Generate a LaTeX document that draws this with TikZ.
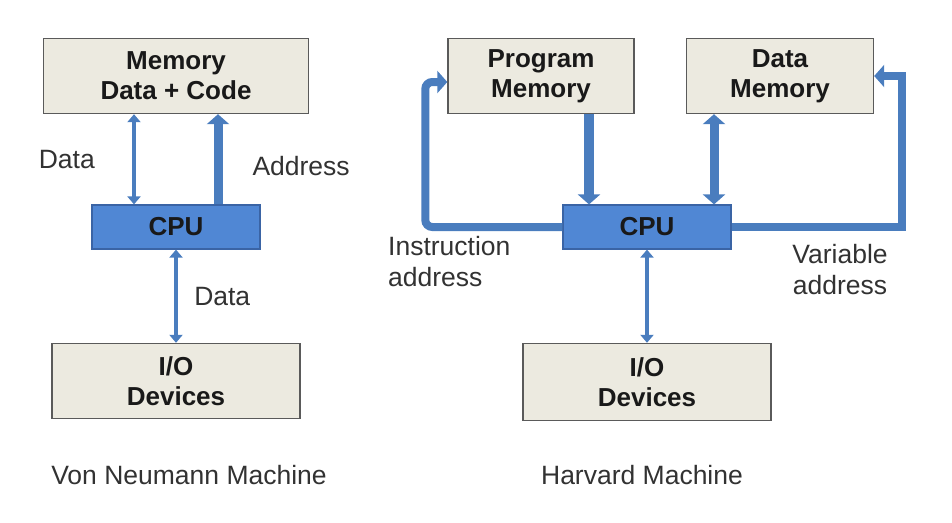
\documentclass[tikz,border=0pt]{standalone}
\usepackage{fontspec}
\setmainfont{Liberation Sans}
\usetikzlibrary{arrows.meta, positioning}

\definecolor{boxfill}{RGB}{236,234,224}
\definecolor{boxline}{RGB}{90,90,90}
\definecolor{cpufill}{RGB}{80,135,212}
\definecolor{cpuline}{RGB}{58,100,165}
\definecolor{busblue}{RGB}{74,125,190}
\definecolor{labelgray}{RGB}{50,50,50}

\tikzset{
  unit/.style={draw=boxline, line width=1.4pt, fill=boxfill, text=black!90, font=\bfseries\fontsize{26}{30}\selectfont,
    align=center, inner sep=0pt, minimum height=75pt},
  cpu/.style={draw=cpuline, line width=1.2pt, fill=cpufill, text=black!90, font=\bfseries\fontsize{26}{30}\selectfont,
    inner sep=0pt, minimum width=168pt, minimum height=44pt},
  lbl/.style={text=labelgray, font=\fontsize{26.5}{31}\selectfont, inner sep=0pt},
  thinbus/.style={draw=busblue, line width=4.5pt, {Triangle[width=13pt,length=8pt]}-{Triangle[width=13pt,length=8pt]}},
  widebus/.style={draw=busblue, line width=9pt},
  widehead/.style={-{Triangle[width=22pt,length=10pt]}},
}

\begin{document}
\begin{tikzpicture}[x=1pt, y=-1pt, node distance=150pt, on grid]
        \useasboundingbox (0,0) rectangle (952,522);

        % Von Neumann machine
        \node[unit, minimum width=265pt] (mem)   at (176,76) {Memory\\Data + Code};
        \node[cpu] (cpuvn) [below=151pt of mem] {CPU};
        \node[unit, minimum width=248pt] (iovn) [below=154pt of cpuvn] {I/O\\Devices};

        \draw[thinbus] ([xshift=-42pt]mem.south) -- ([xshift=-42pt]mem.south |- cpuvn.north)
          node[lbl, midway, left=37pt, anchor=east] (datavn) {Data};
        \draw[widebus, widehead] ([xshift=42pt]mem.south |- cpuvn.north) -- ([xshift=42pt]mem.south)
          node[lbl, pos=0.42, right=30pt, anchor=west] (addrvn) {Address};
        \draw[thinbus] (cpuvn.south) -- (iovn.north)
          node[lbl, midway, right=16pt, anchor=west] (dataio) {Data};

        \node[lbl] (titlevn) at (189,475) {Von Neumann Machine};

        % Harvard machine
        \node[unit, minimum width=186pt] (prog)  at (541,76) {Program\\Memory};
        \node[unit, minimum width=187pt] (dmem) [right=239pt of prog] {Data\\Memory};
        \node[cpu] (cpuh)  at (647,227) {CPU};
        \node[unit, minimum width=248pt, minimum height=77pt] (ioh) [below=155pt of cpuh] {I/O\\Devices};

        \draw[widebus, line width=10pt, widehead] ([xshift=-58pt]cpuh.north |- prog.south) -- ([xshift=-58pt]cpuh.north);
        \draw[widebus, {Triangle[width=22pt,length=10pt]}-{Triangle[width=22pt,length=10pt]}]
          ([xshift=67pt]cpuh.north |- dmem.south) -- ([xshift=67pt]cpuh.north);
        \draw[widebus, line width=8pt, widehead, rounded corners=7pt] (cpuh.west) -| ([xshift=-22pt,yshift=-6pt]prog.west) -- ([yshift=-6pt]prog.west);
        \draw[widebus, line width=8pt, widehead] (cpuh.east) -| ([xshift=28pt]dmem.east) -- (dmem.east);
        \draw[thinbus] (cpuh.south) -- (ioh.north);

        \node[lbl, align=left, anchor=base west] (instr) at (388,286) {Instruction\\address};
        \node[lbl, align=center, anchor=base] (varaddr) at (840,294) {Variable\\address};

        \node[lbl] (titleh) at (642,475) {Harvard Machine};
\end{tikzpicture}
\end{document}
